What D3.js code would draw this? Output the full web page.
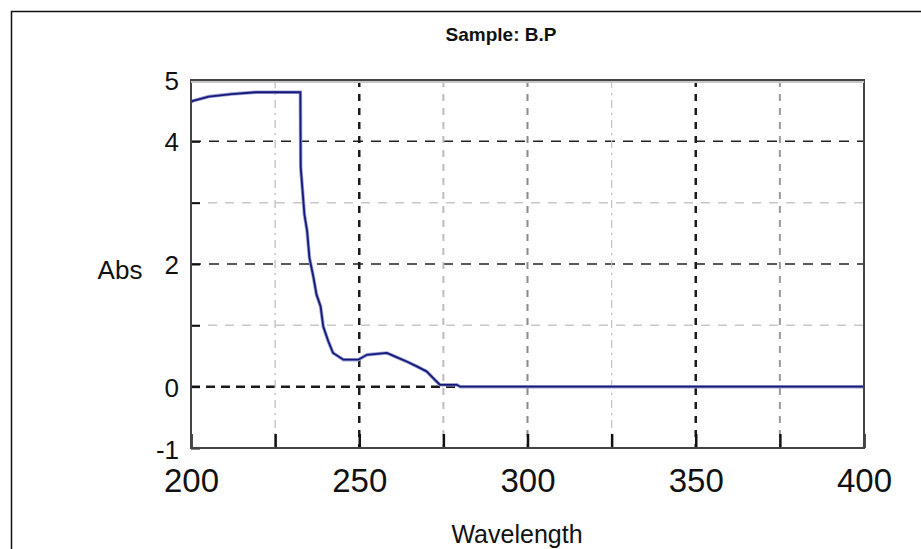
<!DOCTYPE html>
<html>
<head>
<meta charset="utf-8">
<script src="https://cdn.jsdelivr.net/npm/d3@7"></script>
<style>
  body { margin: 0; background: #fff; }
  svg { display: block; }
  text { font-family: "Liberation Sans", Arial, sans-serif; fill: #111; }
</style>
</head>
<body>
<div id="chart"></div>
<script>
// spectrum
var wavelength = [200, 200.6, 205.3, 212.1, 219.2, 232.5, 232.6, 233.7, 234.5, 235.2,
                  236.4, 237.3, 238.5, 239.3, 240.8, 242.2, 245.3, 249.7, 252.3, 258.2,
                  260.7, 264.1, 267.1, 270.0, 272.5, 274.0, 279, 280, 400];
var absorbance = [4.64, 4.66, 4.73, 4.77, 4.80, 4.80, 3.58, 2.81, 2.54, 2.10,
                  1.78, 1.50, 1.31, 0.98, 0.74, 0.55, 0.44, 0.44, 0.52, 0.55,
                  0.49, 0.41, 0.33, 0.25, 0.11, 0.03, 0.03, 0.0, 0.0];

var xTicks = [200, 225, 250, 275, 300, 325, 350, 375, 400];
var xLabels = [200, 250, 300, 350, 400];
var yTicks = [-1, 0, 1, 2, 3, 4, 5];
var yLabels = [-1, 0, 2, 4, 5];

var title = 'Sample: B.P';
var xTitle = 'Wavelength';
var yTitle = 'Abs';

var width = 921, height = 549;
var margin = {left: 191, right: 57, top: 80, bottom: 101};

var svg = d3.select('#chart').append('svg')
    .attr('width', width)
    .attr('height', height);

// outer frame (only top and left edges visible)
svg.append('path')
    .attr('d', 'M11.5,' + height + 'V11.5H' + width)
    .attr('fill', 'none')
    .attr('stroke', '#111')
    .attr('stroke-width', 1.5);

var x = d3.scaleLinear().domain([200, 400]).range([margin.left, width - margin.right]);
var y = d3.scaleLinear().domain([-1, 5]).range([height - margin.bottom, margin.top]);

// grid styles by tick value
var xGridStyle = {
  225: {c: '#b8b8b8', w: 1.2, d: '8,5,2,5'},
  250: {c: '#1a1a1a', w: 2.5, d: '7,7'},
  275: {c: '#bdbdbd', w: 2, d: '7,7'},
  300: {c: '#8a8a8a', w: 2, d: '7,7'},
  325: {c: '#c4c4c4', w: 1.2, d: '8,5,2,5'},
  350: {c: '#1a1a1a', w: 2.5, d: '7,7'},
  375: {c: '#9a9a9a', w: 2, d: '7,7'}
};
var yGridStyle = {
  0: {c: '#1a1a1a', w: 2.5, d: '9,6'},
  1: {c: '#c8c8c8', w: 1.5, d: '9,8'},
  2: {c: '#222', w: 1.5, d: '10,8'},
  3: {c: '#c8c8c8', w: 1.5, d: '9,8'},
  4: {c: '#222', w: 1.5, d: '10,8'}
};

var grid = svg.append('g');

grid.selectAll('.hgrid')
    .data(yTicks.filter(function(d) { return yGridStyle[d]; }))
    .enter().append('line')
    .attr('x1', x(200)).attr('x2', x(400))
    .attr('y1', function(d) { return y(d); })
    .attr('y2', function(d) { return y(d); })
    .attr('stroke', function(d) { return yGridStyle[d].c; })
    .attr('stroke-width', function(d) { return yGridStyle[d].w; })
    .attr('stroke-dasharray', function(d) { return yGridStyle[d].d; });

grid.selectAll('.vgrid')
    .data(xTicks.filter(function(d) { return xGridStyle[d]; }))
    .enter().append('line')
    .attr('x1', function(d) { return x(d); })
    .attr('x2', function(d) { return x(d); })
    .attr('y1', y(5)).attr('y2', y(-1))
    .attr('stroke', function(d) { return xGridStyle[d].c; })
    .attr('stroke-width', function(d) { return xGridStyle[d].w; })
    .attr('stroke-dasharray', function(d) { return xGridStyle[d].d; });

// the spectrum
var points = wavelength.map(function(w, i) { return [w, absorbance[i]]; });
var line = d3.line()
    .x(function(d) { return x(d[0]); })
    .y(function(d) { return y(d[1]); });

svg.append('path')
    .datum(points)
    .attr('d', line)
    .attr('fill', 'none')
    .attr('stroke', '#9aa0d2')
    .attr('stroke-width', 3.5);
svg.append('path')
    .datum(points)
    .attr('d', line)
    .attr('fill', 'none')
    .attr('stroke', '#16197a')
    .attr('stroke-width', 1.8);

// axes
var yAxis = d3.axisLeft(y)
    .tickValues(yTicks)
    .tickSize(-9)
    .tickPadding(12)
    .tickFormat(function(d) { return yLabels.indexOf(d) >= 0 ? d : ''; });

var yg = svg.append('g')
    .attr('transform', 'translate(' + margin.left + ',0)')
    .call(yAxis);
yg.select('.domain').remove();
yg.selectAll('line').attr('stroke', '#111').attr('stroke-width', 2);
yg.selectAll('text')
    .style('font-size', '26px')
    .attr('fill', '#222')
    .attr('dy', function(d) { return d === -1 ? '0.42em' : '0.36em'; });

var xAxis = d3.axisBottom(x)
    .tickValues(xTicks)
    .tickSize(-14)
    .tickPadding(21)
    .tickFormat(function(d) { return xLabels.indexOf(d) >= 0 ? d : ''; });

var xg = svg.append('g')
    .attr('transform', 'translate(0,' + (height - margin.bottom) + ')')
    .call(xAxis);
xg.select('.domain').remove();
xg.selectAll('line').attr('stroke', '#111').attr('stroke-width', 2.5);
xg.selectAll('text')
    .style('font-size', '33px')
    .attr('fill', '#222');

// plot border
svg.append('rect')
    .attr('x', x(200)).attr('y', y(5))
    .attr('width', x(400) - x(200))
    .attr('height', y(-1) - y(5))
    .attr('fill', 'none')
    .attr('stroke', '#444')
    .attr('stroke-width', 2);
svg.append('line')
    .attr('x1', x(200)).attr('x2', x(400))
    .attr('y1', y(5) + 2).attr('y2', y(5) + 2)
    .attr('stroke', '#c8c8c8')
    .attr('stroke-width', 2);

// titles
svg.append('text')
    .attr('x', 501).attr('y', 41)
    .attr('text-anchor', 'middle')
    .style('font-size', '19px')
    .style('font-weight', 'bold')
    .text(title);

svg.append('text')
    .attr('x', 120).attr('y', 279)
    .attr('text-anchor', 'middle')
    .style('font-size', '26px')
    .attr('fill', '#222')
    .text(yTitle);

svg.append('text')
    .attr('x', 517).attr('y', 543)
    .attr('text-anchor', 'middle')
    .style('font-size', '25px')
    .attr('fill', '#222')
    .text(xTitle);
</script>
</body>
</html>
